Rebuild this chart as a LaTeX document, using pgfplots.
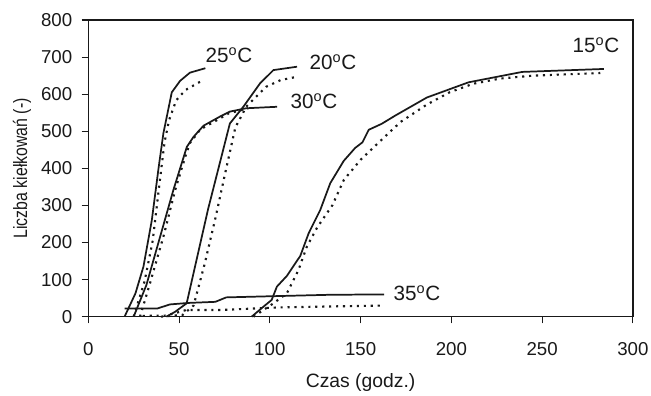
\documentclass[border=0pt]{standalone}
\usepackage{pgfplots}
\pgfplotsset{compat=1.18}
\usepackage{fontspec}
\setmainfont{Liberation Sans}
\newfontfamily\ylabfont[FakeStretch=0.82]{Liberation Sans}
\definecolor{ink}{gray}{0.1}
\tikzset{
  sline/.style={line width=1.3pt, ink},
  dline/.style={line width=1.6pt, ink, dash pattern=on 1.6pt off 3.6pt},
  lab/.style={font=\fontsize{15.5}{17}\selectfont, text=ink, anchor=center},
}
\begin{document}
\begin{tikzpicture}
\begin{axis}[
  scale only axis, width=408.5pt, height=222.5pt,
  xmin=0, xmax=300, ymin=0, ymax=800,
  xtick={0,50,...,300}, ytick={0,100,...,800},
  tick align=outside, xtick pos=bottom, ytick pos=left,
  major tick length=5pt,
  axis line style={line width=1.1pt, ink},
  tick style={line width=0.8pt, ink},
  every tick label/.append style={font=\fontsize{14}{16}\selectfont, text=ink},
  xticklabel style={yshift=-10.5pt},
  yticklabel style={xshift=-3.5pt},
  /pgf/number format/assume math mode=true,
  xlabel={Czas (godz.)},
  ylabel={\ylabfont Liczba kiełkowań (-)},
  xlabel style={at={(axis description cs:0.5,-0.2235)}, anchor=center, font=\fontsize{14.5}{16}\selectfont, text=ink},
  ylabel style={at={(axis description cs:-0.1217,0.5)}, anchor=center, font=\fontsize{14.5}{16}\selectfont, text=ink},
  clip=false,
]
\coordinate (o) at (rel axis cs:0,0);
% 25 C
\addplot[sline] coordinates {(20,0) (26,63) (30.4,135) (35,260) (38.7,400) (41.4,495) (46,605) (50.6,636) (56,658) (64.5,670)};
\addplot[dline] coordinates {(25,0) (31,95) (35.5,205) (39.5,370) (42,470) (44.5,530) (48.5,584) (53.5,611) (62.5,636)};
% 30 C
\addplot[sline] coordinates {(25,0) (32,85) (39.6,216) (46.9,342) (54.3,458) (58,485) (63.5,515) (72.7,540) (78,553) (87,562) (104,566)};
\addplot[dline] coordinates {(28.5,0) (34,90) (41.4,216) (47.9,342) (53.4,431) (56,468) (61.7,505) (70.9,530) (77.3,548) (88,562)};
% 20 C
\addplot[sline] coordinates {(43,0) (47.8,13) (54.2,36) (66,290) (78,521) (85.4,566) (94.6,629) (102,665) (115,674)};
\addplot[dline] coordinates {(40,0) (52,5) (58,30) (64,140) (70,265) (76,400) (81,510) (87,566) (98,620) (106,638) (115,647)};
% 15 C
\addplot[sline] coordinates {(90,0) (96.5,27) (101,45) (103.9,81) (109.4,110) (116.8,164) (121.4,225) (127.8,288) (133.3,360) (140.7,420) (147,455) (151,470) (154.5,504) (161.6,520) (169,542) (186.5,591) (209.5,632) (239,660) (284,668)};
\addplot[dline] coordinates {(91,0) (102,36) (109.4,63) (115.8,126) (120.4,189) (126,240) (134.4,300) (140.8,369) (150,423) (160,470) (172,525) (186.5,572) (199,605) (212,628) (226.7,642) (245,650) (282,657)};
% 35 C
\addplot[sline] coordinates {(20,22) (38,22) (45,33) (55,37) (70,40) (76,52) (100,55) (133,59) (163,60)};
\addplot[dline] coordinates {(30,2) (43,3) (54,18) (73,18) (105,25) (138,28) (163,30)};
% labels
\node[lab] at (axis cs:77.5,705) {25\textsuperscript{o}C};
\node[lab] at (axis cs:134.8,687) {20\textsuperscript{o}C};
\node[lab] at (axis cs:124.3,582) {30\textsuperscript{o}C};
\node[lab] at (axis cs:279.6,731) {15\textsuperscript{o}C};
\node[lab] at (axis cs:181,64) {35\textsuperscript{o}C};
\end{axis}
\pgfresetboundingbox
\path[use as bounding box] ([xshift=-66.2pt,yshift=-59.5pt]o) rectangle ++(488.25pt,297pt);
\end{tikzpicture}
\end{document}
